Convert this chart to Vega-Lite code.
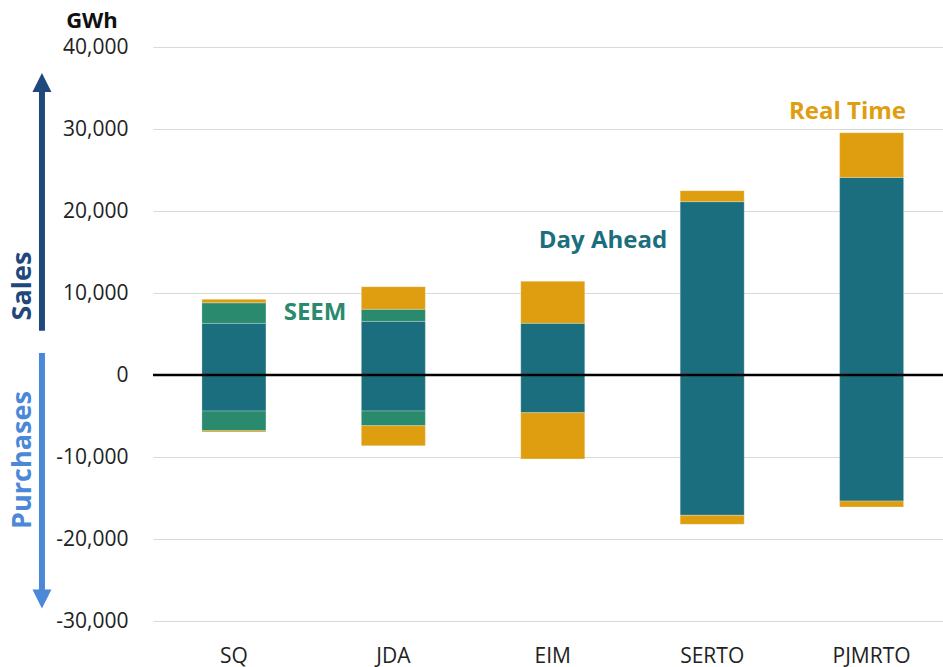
{
  "$schema": "https://vega.github.io/schema/vega-lite/v6.json",
  "width": 790,
  "height": 574,
  "autosize": {"type": "none"},
  "padding": {"left": 153, "top": 47, "right": 0, "bottom": 46},
  "background": "white",
  "config": {"font": "Open Sans", "view": {"stroke": null}},
  "datasets": {
    "bars": [
      {"market": "SQ", "type": "Day Ahead", "rank": 1, "value": 6300},
      {"market": "SQ", "type": "SEEM", "rank": 2, "value": 2500},
      {"market": "SQ", "type": "Real Time", "rank": 3, "value": 430},
      {"market": "SQ", "type": "Day Ahead", "rank": 1, "value": -4400},
      {"market": "SQ", "type": "SEEM", "rank": 2, "value": -2400},
      {"market": "SQ", "type": "Real Time", "rank": 3, "value": -160},
      {"market": "JDA", "type": "Day Ahead", "rank": 1, "value": 6540},
      {"market": "JDA", "type": "SEEM", "rank": 2, "value": 1470},
      {"market": "JDA", "type": "Real Time", "rank": 3, "value": 2760},
      {"market": "JDA", "type": "Day Ahead", "rank": 1, "value": -4390},
      {"market": "JDA", "type": "SEEM", "rank": 2, "value": -1790},
      {"market": "JDA", "type": "Real Time", "rank": 3, "value": -2440},
      {"market": "EIM", "type": "Day Ahead", "rank": 1, "value": 6300},
      {"market": "EIM", "type": "Real Time", "rank": 3, "value": 5130},
      {"market": "EIM", "type": "Day Ahead", "rank": 1, "value": -4590},
      {"market": "EIM", "type": "Real Time", "rank": 3, "value": -5650},
      {"market": "SERTO", "type": "Day Ahead", "rank": 1, "value": 21140},
      {"market": "SERTO", "type": "Real Time", "rank": 3, "value": 1340},
      {"market": "SERTO", "type": "Day Ahead", "rank": 1, "value": -17110},
      {"market": "SERTO", "type": "Real Time", "rank": 3, "value": -1100},
      {"market": "PJMRTO", "type": "Day Ahead", "rank": 1, "value": 24100},
      {"market": "PJMRTO", "type": "Real Time", "rank": 3, "value": 5450},
      {"market": "PJMRTO", "type": "Day Ahead", "rank": 1, "value": -15370},
      {"market": "PJMRTO", "type": "Real Time", "rank": 3, "value": -730}
    ],
    "labels": [
      {"type": "SEEM", "xi": 0.509, "yv": 7560},
      {"type": "Day Ahead", "xi": 2.315, "yv": 16400},
      {"type": "Real Time", "xi": 3.849, "yv": 32070}
    ],
    "sides": [
      {"type": "Sales", "xi": -1.32, "yv": 10850},
      {"type": "Purchases", "xi": -1.32, "yv": -10370}
    ],
    "arrows": [
      {"type": "Sales", "xi": -1.204, "y1": 5400, "y2": 34510, "head": 35670},
      {"type": "Purchases", "xi": -1.204, "y1": 2680, "y2": -26220, "head": -27320}
    ],
    "zero": [{"y": 0}]
  },
  "resolve": {"scale": {"x": "independent"}},
  "layer": [
    {
      "data": {"name": "bars"},
      "mark": {"type": "bar", "stroke": "#ffffff", "strokeWidth": 0.5, "strokeOpacity": 0.5},
      "encoding": {
        "x": {
          "field": "market", "type": "nominal",
          "sort": ["SQ", "JDA", "EIM", "SERTO", "PJMRTO"],
          "scale": {"paddingInner": 0.5985, "paddingOuter": 0.277, "align": 0.554},
          "axis": {"title": null, "domain": false, "ticks": false, "labelAngle": 0, "labelFontSize": 21, "labelColor": "#222222", "labelPadding": 24, "labelFont": "Open Sans"}
        },
        "y": {
          "field": "value", "type": "quantitative", "stack": "zero",
          "scale": {"domain": [-30000, 40000], "nice": false},
          "axis": {
            "values": [-30000, -20000, -10000, 0, 10000, 20000, 30000, 40000],
            "labelExpr": "(datum.value < 0 ? '-' : '') + format(abs(datum.value), ',.0f')",
            "grid": true, "gridColor": "#D9D9D9", "gridWidth": 1,
            "domain": false, "ticks": false, "labelPadding": 25, "labelFontSize": 21,
            "labelColor": "#222222", "labelFont": "Open Sans",
            "title": "GWh", "titleAngle": 0, "titleX": -61.5, "titleY": -27,
            "titleAlign": "center", "titleBaseline": "middle", "titleFontSize": 22,
            "titleFontWeight": "bold", "titleColor": "#111111", "titleFont": "Open Sans"
          }
        },
        "color": {
          "field": "type", "type": "nominal",
          "scale": {"domain": ["Day Ahead", "SEEM", "Real Time", "Sales", "Purchases"], "range": ["#1B6E7E", "#2A8A6E", "#DF9E10", "#1F487C", "#4B88D8"]},
          "legend": null
        },
        "order": {"field": "rank", "type": "quantitative"}
      }
    },
    {
      "data": {"name": "zero"},
      "mark": {"type": "rule", "color": "#000000", "strokeWidth": 2.5},
      "encoding": {
        "y": {"field": "y", "type": "quantitative"}
      }
    },
    {
      "data": {"name": "labels"},
      "mark": {"type": "text", "fontSize": 24, "fontWeight": "bold", "align": "center", "baseline": "middle", "font": "Open Sans"},
      "encoding": {
        "x": {"field": "xi", "type": "quantitative", "scale": {"domain": [-0.5075, 4.448], "nice": false, "zero": false}, "axis": null},
        "y": {"field": "yv", "type": "quantitative"},
        "text": {"field": "type"},
        "color": {"field": "type", "type": "nominal", "legend": null}
      }
    },
    {
      "data": {"name": "sides"},
      "mark": {"type": "text", "fontSize": 27, "fontWeight": "bold", "align": "center", "baseline": "middle", "angle": 270, "font": "Open Sans"},
      "encoding": {
        "x": {"field": "xi", "type": "quantitative", "scale": {"domain": [-0.5075, 4.448], "nice": false, "zero": false}, "axis": null},
        "y": {"field": "yv", "type": "quantitative"},
        "text": {"field": "type"},
        "color": {"field": "type", "type": "nominal", "legend": null}
      }
    },
    {
      "data": {"name": "arrows"},
      "mark": {"type": "rule", "strokeWidth": 6},
      "encoding": {
        "x": {"field": "xi", "type": "quantitative", "scale": {"domain": [-0.5075, 4.448], "nice": false, "zero": false}, "axis": null},
        "y": {"field": "y1", "type": "quantitative"},
        "y2": {"field": "y2"},
        "color": {"field": "type", "type": "nominal", "legend": null}
      }
    },
    {
      "data": {"name": "arrows"},
      "mark": {"type": "point", "filled": true, "opacity": 1, "size": 361, "strokeWidth": 0},
      "encoding": {
        "x": {"field": "xi", "type": "quantitative", "scale": {"domain": [-0.5075, 4.448], "nice": false, "zero": false}, "axis": null},
        "y": {"field": "head", "type": "quantitative"},
        "shape": {"field": "type", "type": "nominal", "scale": {"domain": ["Sales", "Purchases"], "range": ["M-1,1L0,-1L1,1Z", "M-1,-1L0,1L1,-1Z"]}, "legend": null},
        "color": {"field": "type", "type": "nominal", "legend": null}
      }
    }
  ]
}
